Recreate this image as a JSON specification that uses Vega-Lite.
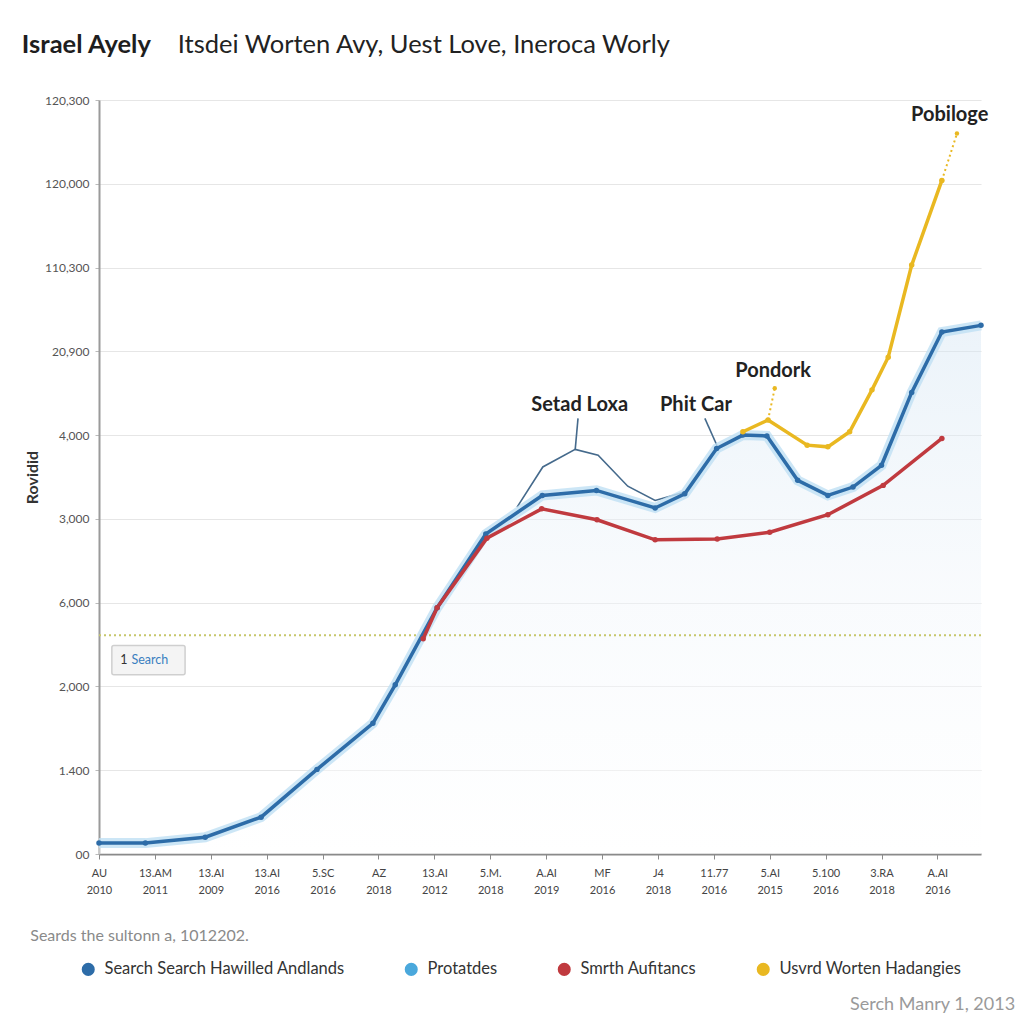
{
  "$schema": "https://vega.github.io/schema/vega-lite/v6.json",
  "autosize": {"type": "none"},
  "width": 882,
  "height": 754,
  "padding": {"left": 99, "top": 100, "right": 43, "bottom": 170},
  "background": "white",
  "config": {
    "font": "Lato",
    "view": {"stroke": null}
  },
  "datasets": {
    "lines": [
      {"series": "Search Search Hawilled Andlands", "x": 0, "y": 0.13},
      {"series": "Search Search Hawilled Andlands", "x": 0.83, "y": 0.13},
      {"series": "Search Search Hawilled Andlands", "x": 1.9, "y": 0.2},
      {"series": "Search Search Hawilled Andlands", "x": 2.9, "y": 0.44},
      {"series": "Search Search Hawilled Andlands", "x": 3.9, "y": 1.01},
      {"series": "Search Search Hawilled Andlands", "x": 4.9, "y": 1.56},
      {"series": "Search Search Hawilled Andlands", "x": 5.3, "y": 2.02},
      {"series": "Search Search Hawilled Andlands", "x": 6.05, "y": 2.94},
      {"series": "Search Search Hawilled Andlands", "x": 6.92, "y": 3.82},
      {"series": "Search Search Hawilled Andlands", "x": 7.93, "y": 4.28},
      {"series": "Search Search Hawilled Andlands", "x": 8.9, "y": 4.34},
      {"series": "Search Search Hawilled Andlands", "x": 9.95, "y": 4.13},
      {"series": "Search Search Hawilled Andlands", "x": 10.48, "y": 4.3},
      {"series": "Search Search Hawilled Andlands", "x": 11.05, "y": 4.84},
      {"series": "Search Search Hawilled Andlands", "x": 11.52, "y": 5.0},
      {"series": "Search Search Hawilled Andlands", "x": 11.95, "y": 4.99},
      {"series": "Search Search Hawilled Andlands", "x": 12.5, "y": 4.46},
      {"series": "Search Search Hawilled Andlands", "x": 13.04, "y": 4.28},
      {"series": "Search Search Hawilled Andlands", "x": 13.49, "y": 4.38},
      {"series": "Search Search Hawilled Andlands", "x": 14.0, "y": 4.64},
      {"series": "Search Search Hawilled Andlands", "x": 14.54, "y": 5.51},
      {"series": "Search Search Hawilled Andlands", "x": 15.08, "y": 6.23},
      {"series": "Search Search Hawilled Andlands", "x": 15.78, "y": 6.31},
      {"series": "Smrth Aufitancs", "x": 5.8, "y": 2.57},
      {"series": "Smrth Aufitancs", "x": 6.05, "y": 2.94},
      {"series": "Smrth Aufitancs", "x": 6.94, "y": 3.77},
      {"series": "Smrth Aufitancs", "x": 7.92, "y": 4.12},
      {"series": "Smrth Aufitancs", "x": 8.91, "y": 3.99},
      {"series": "Smrth Aufitancs", "x": 9.95, "y": 3.75},
      {"series": "Smrth Aufitancs", "x": 11.06, "y": 3.76},
      {"series": "Smrth Aufitancs", "x": 12.0, "y": 3.84},
      {"series": "Smrth Aufitancs", "x": 13.04, "y": 4.05},
      {"series": "Smrth Aufitancs", "x": 14.03, "y": 4.4},
      {"series": "Smrth Aufitancs", "x": 15.08, "y": 4.96},
      {"series": "Usvrd Worten Hadangies", "x": 11.52, "y": 5.04},
      {"series": "Usvrd Worten Hadangies", "x": 11.97, "y": 5.18},
      {"series": "Usvrd Worten Hadangies", "x": 12.67, "y": 4.88},
      {"series": "Usvrd Worten Hadangies", "x": 13.04, "y": 4.86},
      {"series": "Usvrd Worten Hadangies", "x": 13.43, "y": 5.04},
      {"series": "Usvrd Worten Hadangies", "x": 13.83, "y": 5.54},
      {"series": "Usvrd Worten Hadangies", "x": 14.12, "y": 5.93},
      {"series": "Usvrd Worten Hadangies", "x": 14.54, "y": 7.03},
      {"series": "Usvrd Worten Hadangies", "x": 15.08, "y": 8.04}
    ],
    "thin": [
      {"x": 7.48, "y": 4.14},
      {"x": 7.94, "y": 4.62},
      {"x": 8.52, "y": 4.83},
      {"x": 8.93, "y": 4.76},
      {"x": 9.46, "y": 4.39},
      {"x": 9.95, "y": 4.22},
      {"x": 10.48, "y": 4.32}
    ],
    "leaders": [
      {"seg": "a", "x": 8.52, "y": 4.83},
      {"seg": "a", "x": 8.57, "y": 5.2},
      {"seg": "b", "x": 11.06, "y": 4.87},
      {"seg": "b", "x": 10.84, "y": 5.2}
    ],
    "dots": [
      {"seg": "a", "x": 15.08, "y": 8.04},
      {"seg": "a", "x": 15.35, "y": 8.6},
      {"seg": "b", "x": 11.97, "y": 5.18},
      {"seg": "b", "x": 12.09, "y": 5.56}
    ],
    "notes": [
      {"text": "Setad Loxa", "x": 8.6, "y": 5.36},
      {"text": "Phit Car", "x": 10.68, "y": 5.36},
      {"text": "Pondork", "x": 12.06, "y": 5.76},
      {"text": "Pobiloge", "x": 15.22, "y": 8.82}
    ],
    "box": [
      {"x": 0.23, "x2": 1.54, "y": 2.14, "y2": 2.49}
    ],
    "boxtext": [
      {"text": "1", "x": 0.38, "y": 2.31, "kind": "num"},
      {"text": "Search", "x": 0.58, "y": 2.31, "kind": "word"}
    ],
    "refline": [
      {"y": 2.61}
    ],
    "extra": [
      {"text": "Israel Ayely", "x": -1.38, "y": 9.56, "kind": "titlebold"},
      {"text": "Itsdei Worten Avy, Uest Love, Ineroca Worly", "x": 1.41, "y": 9.56, "kind": "title"},
      {"text": "Seards the sultonn a, 1012202.", "x": -1.23, "y": -0.98, "kind": "note"},
      {"text": "Serch Manry 1, 2013", "x": 16.39, "y": -1.8, "kind": "foot"}
    ]
  },
  "layer": [
    {
      "data": {"name": "lines"},
      "transform": [{"filter": "datum.series === 'Search Search Hawilled Andlands'"}],
      "mark": {"type": "area", "interpolate": "linear", "opacity": 0.45,
        "color": {"gradient": "linear", "x1": 0, "y1": 0, "x2": 0, "y2": 1,
          "stops": [{"offset": 0, "color": "#d4e5f3"}, {"offset": 0.5, "color": "#f1f6fb"}, {"offset": 1, "color": "#ffffff"}]}},
      "encoding": {
        "x": {"field": "x", "type": "quantitative"},
        "y": {"field": "y", "type": "quantitative"}
      }
    },
    {
      "data": {"name": "refline"},
      "mark": {"type": "rule", "color": "#c6c66a", "strokeDash": [2, 3], "strokeWidth": 2},
      "encoding": {
        "y": {"field": "y", "type": "quantitative"}
      }
    },
    {
      "data": {"name": "box"},
      "mark": {"type": "rect", "fill": "#f4f4f4", "stroke": "#cfcfcf", "strokeWidth": 1.5, "cornerRadius": 2},
      "encoding": {
        "x": {"field": "x", "type": "quantitative"},
        "x2": {"field": "x2"},
        "y": {"field": "y", "type": "quantitative"},
        "y2": {"field": "y2"}
      }
    },
    {
      "data": {"name": "boxtext"},
      "mark": {"type": "text", "align": "left", "baseline": "middle", "fontSize": 12.5},
      "encoding": {
        "x": {"field": "x", "type": "quantitative"},
        "y": {"field": "y", "type": "quantitative"},
        "text": {"field": "text"},
        "color": {"condition": {"test": "datum.kind === 'num'", "value": "#333333"}, "value": "#3a7fc0"},
        "fontWeight": {"condition": {"test": "datum.kind === 'num'", "value": "bold"}, "value": "normal"}
      }
    },
    {
      "data": {"name": "thin"},
      "mark": {"type": "line", "color": "#456a8c", "strokeWidth": 1.6},
      "encoding": {
        "x": {"field": "x", "type": "quantitative"},
        "y": {"field": "y", "type": "quantitative"}
      }
    },
    {
      "data": {"name": "leaders"},
      "mark": {"type": "line", "color": "#456a8c", "strokeWidth": 1.6},
      "encoding": {
        "x": {"field": "x", "type": "quantitative"},
        "y": {"field": "y", "type": "quantitative"},
        "detail": {"field": "seg"}
      }
    },
    {
      "data": {"name": "dots"},
      "mark": {"type": "line", "color": "#e9b821", "strokeWidth": 2, "strokeDash": [2, 3], "point": {"filled": true, "size": 20, "color": "#e9b821"}},
      "encoding": {
        "x": {"field": "x", "type": "quantitative"},
        "y": {"field": "y", "type": "quantitative"},
        "detail": {"field": "seg"}
      }
    },
    {
      "data": {"name": "lines"},
      "transform": [{"filter": "datum.series === 'Search Search Hawilled Andlands'"}],
      "mark": {"type": "line", "color": "#bfe0f4", "strokeWidth": 10, "opacity": 0.8},
      "encoding": {
        "x": {"field": "x", "type": "quantitative"},
        "y": {"field": "y", "type": "quantitative"}
      }
    },
    {
      "data": {"name": "lines"},
      "mark": {"type": "line", "strokeWidth": 3.5, "point": {"filled": true, "size": 30}},
      "encoding": {
        "x": {
          "field": "x", "type": "quantitative",
          "scale": {"domain": [0, 15.78], "nice": false, "zero": false},
          "axis": {
            "values": [0, 1, 2, 3, 4, 5, 6, 7, 8, 9, 10, 11, 12, 13, 14, 15],
            "labelExpr": "split(['AU|2010','13.AM|2011','13.AI|2009','13.AI|2016','5.SC|2016','AZ|2018','13.AI|2012','5.M.|2018','A.AI|2019','MF|2016','J4|2018','11.77|2016','5.AI|2015','5.100|2016','3.RA|2018','A.AI|2016'][datum.value], '|')",
            "title": null,
            "grid": false,
            "domainColor": "#8a8a8a",
            "domainWidth": 2,
            "tickColor": "#8a8a8a",
            "tickSize": 5,
            "labelFontSize": 11,
            "labelColor": "#444444",
            "labelPadding": 8,
            "labelLineHeight": 17,
            "labelFlush": false,
            "labelOverlap": false
          }
        },
        "y": {
          "field": "y", "type": "quantitative",
          "scale": {"domain": [0, 9], "nice": false, "zero": false},
          "axis": {
            "values": [0, 1, 2, 3, 4, 5, 6, 7, 8, 9],
            "labelExpr": "['00','1.400','2,000','6,000','3,000','4,000','20,900','110,300','120,000','120,300'][datum.value]",
            "title": "Rovidid",
            "titleFontSize": 16,
            "titleFontWeight": "bold",
            "titleColor": "#333333",
            "titlePadding": 4,
            "grid": true,
            "gridColor": "#e6e6e6",
            "gridWidth": 1.2,
            "domainColor": "#9a9a9a",
            "domainWidth": 2,
            "tickColor": "#bbbbbb",
            "tickSize": 4,
            "labelFontSize": 12,
            "labelColor": "#555555",
            "labelPadding": 6,
            "labelFlush": false,
            "labelOverlap": false
          }
        },
        "color": {
          "field": "series", "type": "nominal",
          "scale": {
            "domain": ["Search Search Hawilled Andlands", "Protatdes", "Smrth Aufitancs", "Usvrd Worten Hadangies"],
            "range": ["#2d6ca8", "#4aa8dc", "#c03a3f", "#e9b821"]
          },
          "legend": {
            "title": null,
            "orient": "none",
            "direction": "horizontal",
            "legendX": -19,
            "legendY": 861,
            "symbolType": "circle",
            "symbolSize": 170,
            "symbolStrokeWidth": 0,
            "labelFontSize": 16.5,
            "labelColor": "#333333",
            "labelOffset": 8,
            "columnPadding": 58,
            "labelLimit": 400
          }
        }
      }
    },
    {
      "data": {"name": "notes"},
      "mark": {"type": "text", "align": "center", "baseline": "middle", "fontSize": 20, "fontWeight": "bold", "color": "#222222"},
      "encoding": {
        "x": {"field": "x", "type": "quantitative"},
        "y": {"field": "y", "type": "quantitative"},
        "text": {"field": "text"}
      }
    },
    {
      "data": {"name": "extra"},
      "transform": [{"filter": "datum.kind === 'titlebold'"}],
      "mark": {"type": "text", "align": "left", "baseline": "alphabetic", "fontSize": 25.5, "fontWeight": "bold", "color": "#1e1e1e"},
      "encoding": {
        "x": {"field": "x", "type": "quantitative"},
        "y": {"field": "y", "type": "quantitative"},
        "text": {"field": "text"}
      }
    },
    {
      "data": {"name": "extra"},
      "transform": [{"filter": "datum.kind === 'title'"}],
      "mark": {"type": "text", "align": "left", "baseline": "alphabetic", "fontSize": 25.5, "color": "#222222"},
      "encoding": {
        "x": {"field": "x", "type": "quantitative"},
        "y": {"field": "y", "type": "quantitative"},
        "text": {"field": "text"}
      }
    },
    {
      "data": {"name": "extra"},
      "transform": [{"filter": "datum.kind === 'note'"}],
      "mark": {"type": "text", "align": "left", "baseline": "middle", "fontSize": 16, "color": "#8a8a8a"},
      "encoding": {
        "x": {"field": "x", "type": "quantitative"},
        "y": {"field": "y", "type": "quantitative"},
        "text": {"field": "text"}
      }
    },
    {
      "data": {"name": "extra"},
      "transform": [{"filter": "datum.kind === 'foot'"}],
      "mark": {"type": "text", "align": "right", "baseline": "middle", "fontSize": 18, "color": "#9a9a9a"},
      "encoding": {
        "x": {"field": "x", "type": "quantitative"},
        "y": {"field": "y", "type": "quantitative"},
        "text": {"field": "text"}
      }
    }
  ]
}
